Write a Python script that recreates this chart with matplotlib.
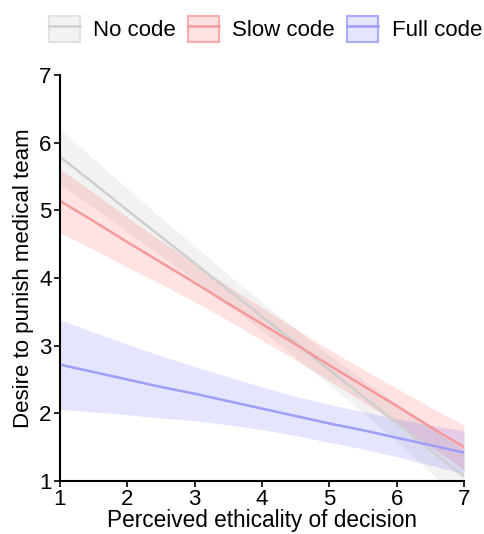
import matplotlib
matplotlib.use("Agg")
import matplotlib.pyplot as plt
from matplotlib.patches import Patch
from matplotlib.lines import Line2D

plt.rcParams['font.family'] = ['Liberation Sans', 'DejaVu Sans']

# Data
x_vals = [1, 1.5, 2, 2.5, 3, 3.5, 4, 4.5, 5, 5.5, 6, 6.5, 7]
series_names = ["No code", "Slow code", "Full code"]

no_code_fit = [5.79, 5.40, 5.00, 4.61, 4.22, 3.82, 3.43, 3.04, 2.64, 2.25, 1.86, 1.46, 1.07]
no_code_lo = [5.39, 5.04, 4.68, 4.33, 3.97, 3.60, 3.22, 2.83, 2.42, 2.01, 1.58, 1.13, 0.69]
no_code_hi = [6.19, 5.76, 5.32, 4.89, 4.47, 4.05, 3.64, 3.25, 2.86, 2.50, 2.14, 1.79, 1.45]

slow_code_fit = [5.14, 4.84, 4.53, 4.23, 3.93, 3.62, 3.32, 3.02, 2.71, 2.41, 2.11, 1.80, 1.50]
slow_code_lo = [4.67, 4.42, 4.16, 3.91, 3.65, 3.37, 3.08, 2.79, 2.48, 2.17, 1.85, 1.51, 1.17]
slow_code_hi = [5.61, 5.26, 4.90, 4.55, 4.21, 3.88, 3.56, 3.25, 2.94, 2.65, 2.37, 2.09, 1.83]

full_code_fit = [2.72, 2.61, 2.50, 2.39, 2.29, 2.18, 2.07, 1.96, 1.85, 1.75, 1.64, 1.53, 1.42]
full_code_lo = [2.06, 2.02, 1.98, 1.93, 1.89, 1.83, 1.76, 1.67, 1.57, 1.475, 1.36, 1.235, 1.10]
full_code_hi = [3.38, 3.20, 3.02, 2.85, 2.69, 2.54, 2.39, 2.25, 2.13, 2.025, 1.92, 1.825, 1.74]

tick_vals = [1, 2, 3, 4, 5, 6, 7]

line_colors = ["#cfcfcf", "#f59a9a", "#9f9ff7"]
band_colors = [(0.6, 0.6, 0.6, 0.12), (1.0, 0.0, 0.0, 0.11), (0.0, 0.0, 1.0, 0.10)]
edge_colors = ["#e2e2e2", "#ffaaaa", "#aaaaff"]

fits = [no_code_fit, slow_code_fit, full_code_fit]
los = [no_code_lo, slow_code_lo, full_code_lo]
his = [no_code_hi, slow_code_hi, full_code_hi]

fig = plt.figure(figsize=(4.85, 5.34), dpi=100)
ax = fig.add_axes([60/485, 1 - 481/534, (464-60)/485, (481-75)/534])

for fit, lo, hi, lc, bc in zip(fits, los, his, line_colors, band_colors):
    ax.fill_between(x_vals, lo, hi, color=bc, linewidth=0)
    ax.plot(x_vals, fit, color=lc, linewidth=1.8)

ax.set_xlim(1, 7)
ax.set_ylim(1, 7)
ax.set_xticks(tick_vals)
ax.set_yticks(tick_vals)
ax.tick_params(labelsize=16, length=4, width=1.2, color="black")
ax.tick_params(axis="x", pad=2)
ax.tick_params(axis="y", pad=2)
for s in ["top", "right"]:
    ax.spines[s].set_visible(False)
for s in ["left", "bottom"]:
    ax.spines[s].set_linewidth(1.5)
ax.set_xlabel("Perceived ethicality of decision", fontsize=16.3, labelpad=-1)
ax.set_ylabel("Desire to punish medical team", fontsize=16)
ax.yaxis.set_label_coords(-0.065, 0.5)

handles = []
for lc, bc, ec in zip(line_colors, band_colors, edge_colors):
    p = Patch(facecolor=bc, edgecolor=ec, linewidth=1.5)
    l = Line2D([], [], color=lc, linewidth=1.8)
    handles.append((p, l))

fig.legend(handles, series_names, loc="center", bbox_to_anchor=(0.547, 1 - 29/534),
           ncol=3, frameon=False, fontsize=16, handlelength=1.4, handleheight=1.4,
           handletextpad=0.6, columnspacing=0.55, borderpad=0, borderaxespad=0)

fig.savefig("out.png", dpi=100)
